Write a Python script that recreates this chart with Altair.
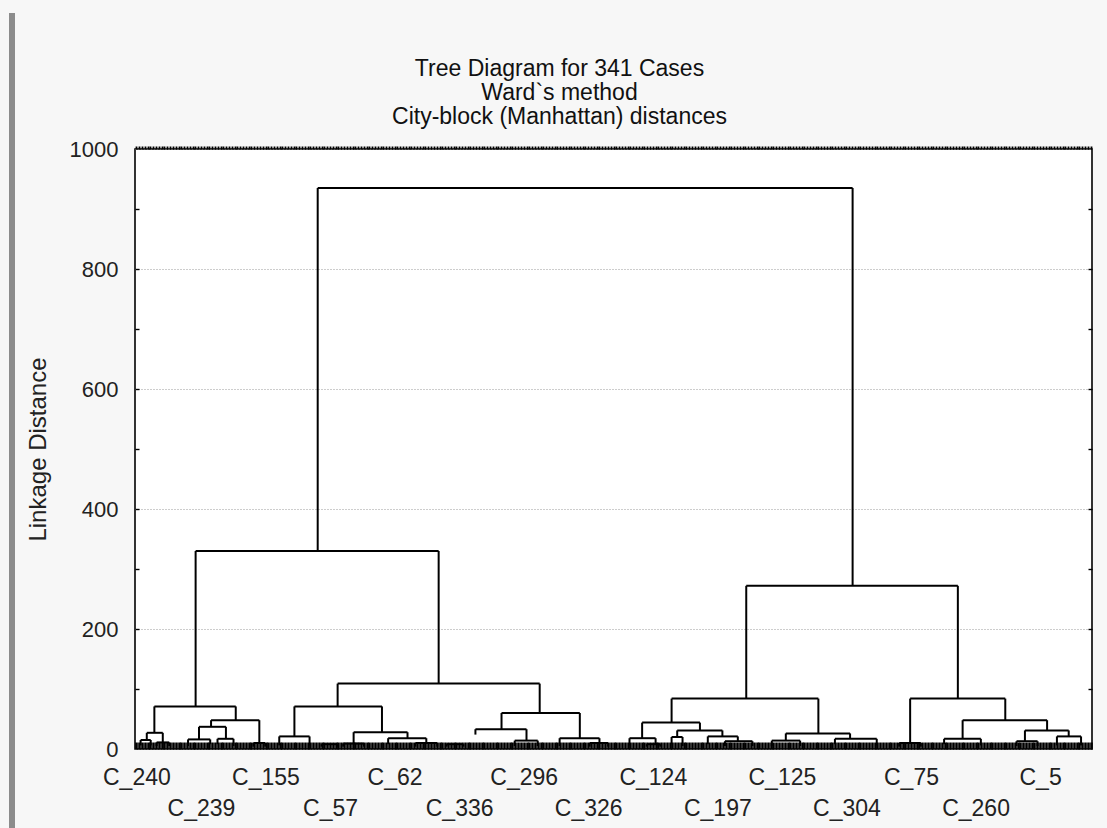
import altair as alt
import pandas as pd

# ---- data ----
n_cases = 341

# case labels shown under the axis, in leaf order, and their leaf index
case_labels = ["C_240", "C_239", "C_155", "C_57", "C_62", "C_336", "C_296", "C_326",
               "C_124", "C_197", "C_125", "C_304", "C_75", "C_260", "C_5"]
case_leaf = [0, 23, 46, 69, 92, 115, 138, 161, 184, 207, 230, 253, 276, 299, 322]

# dendrogram links: left leg x, right leg x (leaf units), join height,
# height where the left leg / right leg ends (child join height)
link_xl = [65.1, 21.6, 217.8,
           6.9, 4.2, 2.0, 7.7, 27.1, 22.8, 18.9, 29.4, 42.2,
           72.2, 56.8, 51.4, 77.9, 74.2, 90.2, 99.9, 66.5,
           130.6, 121.3, 135.3, 151.3, 162.0, 111.0,
           191.2, 180.7, 176.2, 182.4, 193.2, 191.2, 204.1, 210.2, 231.9, 226.9, 249.4,
           276.2, 272.3, 294.9, 288.3, 317.1, 314.1, 328.5]
link_xr = [255.7, 108.2, 293.2,
           35.9, 9.9, 5.6, 12.2, 44.3, 32.4, 26.8, 35.1, 46.4,
           144.2, 88.0, 62.2, 97.1, 81.6, 103.8, 107.7, 72.0,
           158.5, 139.5, 143.5, 165.5, 168.6, 117.0,
           243.5, 201.3, 185.5, 187.2, 209.3, 195.1, 214.8, 220.0, 254.8, 237.0, 264.3,
           310.1, 280.0, 325.0, 301.4, 332.7, 321.6, 337.1]
link_h = [935, 330, 272,
          71, 27, 15, 11, 48, 37, 16, 17, 10,
          109, 71, 21, 28, 9, 18, 10, 8,
          60, 33, 14, 18, 10, 8,
          84, 44, 18, 8, 31, 20, 21, 13, 26, 14, 17,
          84, 10, 48, 17, 31, 13, 21]
link_hl = [330, 71, 84,
           27, 15, 6, 5, 37, 16, 5, 8, 4,
           71, 21, 6, 9, 4, 8, 4, 4,
           33, 24, 5, 5, 4, 4,
           44, 18, 6, 4, 20, 8, 8, 5, 14, 5, 8,
           10, 4, 17, 8, 13, 5, 6]
link_hr = [272, 109, 84,
           48, 11, 6, 5, 10, 17, 8, 5, 4,
           60, 28, 6, 18, 4, 10, 4, 4,
           18, 14, 5, 10, 4, 4,
           26, 31, 8, 4, 21, 5, 13, 5, 17, 5, 6,
           48, 4, 31, 6, 21, 5, 6]

y_ticks = [0, 200, 400, 600, 800, 1000]
y_minor = [100, 200, 300, 400, 500, 600, 700, 800, 900]

# ---- build segment table ----
rows = []
for xl, xr, h, hl, hr in zip(link_xl, link_xr, link_h, link_hl, link_hr):
    rows.append({"x": xl, "x2": xl, "y": hl, "y2": h})
    rows.append({"x": xl, "x2": xr, "y": h, "y2": h})
    rows.append({"x": xr, "x2": xr, "y": hr, "y2": h})
seg = pd.DataFrame(rows)

leaf_pos = [i + 0.5 for i in range(n_cases)]
lab_pos = [i + 0.5 for i in case_leaf]
row1_pos = lab_pos[0::2]
row2_pos = lab_pos[1::2]
label_expr = ("[" + ",".join("'%s'" % s for s in case_labels) + "][indexof(["
              + ",".join(str(p) for p in lab_pos) + "], datum.value)]")

FONT = "Liberation Sans"
W, H = 957, 600
xs = alt.Scale(domain=[0, n_cases], nice=False, zero=False)
ys = alt.Scale(domain=[0, 1000], nice=False, zero=False)

base = alt.Chart(seg)

# main dendrogram, bottom row-1 labels, left labels + grid
main = base.mark_rule(color="black", strokeWidth=2).encode(
    x=alt.X("x:Q", scale=xs, axis=alt.Axis(
        orient="bottom", values=row1_pos, labelExpr=label_expr, ticks=False, domain=False,
        grid=False, title=None, labelFont=FONT, labelFontSize=23, labelColor="#222",
        labelPadding=17, labelFlush=False, labelOverlap=False)),
    x2="x2:Q",
    y=alt.Y("y:Q", scale=ys, axis=alt.Axis(
        orient="left", values=y_ticks, format="d", ticks=False, domain=False, grid=True,
        gridColor="#9a9a9a", gridDash=[1, 2], gridWidth=1,
        labelFont=FONT, labelFontSize=22, labelColor="#222", labelPadding=17,
        title="Linkage Distance", titleFont=FONT, titleFontSize=24, titleFontWeight="normal",
        titleColor="#222", titleX=-97, titleY=300, titleAngle=270,
        titleAlign="center", titleBaseline="middle")),
    y2="y2:Q",
)

# second label row + inward minor ticks on the left border
row2 = base.mark_rule(opacity=0).encode(
    x=alt.X("x:Q", scale=xs, axis=alt.Axis(
        orient="bottom", values=row2_pos, labelExpr=label_expr, ticks=False, domain=False,
        grid=False, title=None, labelFont=FONT, labelFontSize=23, labelColor="#222",
        labelPadding=48, labelFlush=False, labelOverlap=False)),
    x2="x2:Q",
    y=alt.Y("y:Q", scale=ys, axis=alt.Axis(
        orient="right", offset=-W, values=y_minor, ticks=True, tickSize=4, tickColor="black",
        tickWidth=1.4, labels=False, domain=False, grid=False, title=None)),
    y2="y2:Q",
)

# dense case ticks along the top + inward ticks on the right border
top = base.mark_rule(opacity=0).encode(
    x=alt.X("x:Q", scale=xs, axis=alt.Axis(
        orient="top", values=leaf_pos, ticks=True, tickSize=3, tickColor="black",
        tickWidth=1.8, labels=False, domain=False, grid=False, title=None)),
    x2="x2:Q",
    y=alt.Y("y:Q", scale=ys, axis=alt.Axis(
        orient="left", offset=-W, values=y_minor, ticks=True, tickSize=4, tickColor="black",
        tickWidth=1.4, labels=False, domain=False, grid=False, title=None)),
    y2="y2:Q",
)

# dense leaf stubs along the baseline
band = base.mark_rule(opacity=0).encode(
    x=alt.X("x:Q", scale=xs, axis=alt.Axis(
        orient="bottom", offset=-7, values=leaf_pos, ticks=True, tickSize=7,
        tickColor="black", tickWidth=2.6, labels=False, domain=False, grid=False,
        title=None)),
    x2="x2:Q",
    y=alt.Y("y:Q", scale=ys, axis=None),
    y2="y2:Q",
)

# grey window edge on the left
edge = alt.Chart(pd.DataFrame({"k": [0]})).mark_rule(color="#8c8c8c", strokeWidth=6).encode(
    x=alt.value(-123), y=alt.value(-136), y2=alt.value(679)
)

chart = alt.layer(edge, main, row2, top, band).resolve_axis(
    x="independent", y="independent"
).properties(
    width=W, height=H,
    autosize=alt.AutoSizeParams(type="none"),
    padding={"left": 135, "top": 149, "right": 15, "bottom": 79},
    background="#f7f7f7",
    title=alt.TitleParams(
        text=["Tree Diagram for 341 Cases", "Ward`s method", "City-block (Manhattan) distances"],
        font=FONT, fontSize=23, fontWeight="normal", color="#111", lineHeight=24,
        anchor="middle", frame="group", dx=-54, dy=119, offset=0),
).configure_view(
    fill="white", stroke="black", strokeWidth=1.6
)

chart.save("out.html", embed_options={"renderer": "svg", "actions": False})
